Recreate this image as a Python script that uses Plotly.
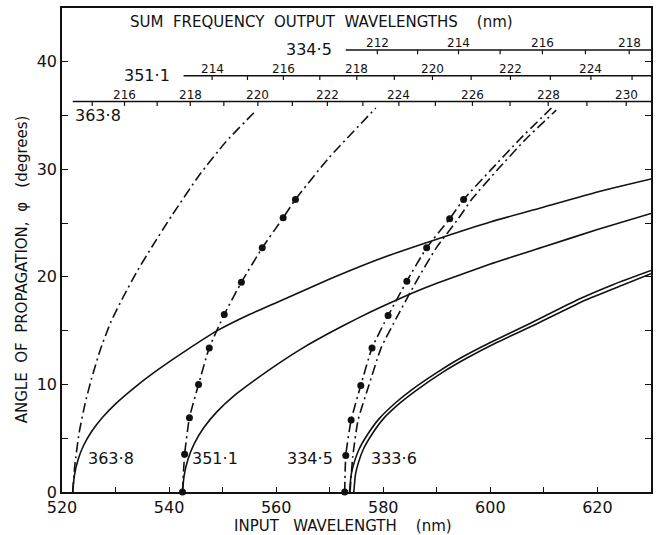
import plotly.graph_objects as go

# ---------------- data ----------------
# solid curves
solid_3638_x = [522.0, 522.3, 523.0, 524.0, 525.5, 527.5, 530.0, 534.0, 538.0, 543.0, 549.0, 555.0, 560.0, 570.0, 580.0, 590.0, 600.0, 610.0, 620.0, 630.0]
solid_3638_y = [0.0, 1.5, 3.0, 4.3, 5.6, 6.9, 8.2, 9.9, 11.4, 13.1, 15.0, 16.5, 17.6, 19.8, 21.8, 23.5, 25.1, 26.5, 27.9, 29.1]

solid_3511_x = [542.5, 542.8, 543.5, 544.7, 546.5, 549.0, 552.0, 556.0, 560.0, 565.0, 570.0, 575.0, 580.0, 585.0, 590.0, 600.0, 610.0, 620.0, 630.0]
solid_3511_y = [0.0, 1.5, 3.0, 4.5, 6.0, 7.5, 8.9, 10.4, 11.8, 13.4, 14.8, 16.1, 17.3, 18.4, 19.4, 21.2, 22.8, 24.4, 25.9]

solid_3345_x = [573.7, 574.0, 574.6, 575.5, 577.0, 579.2, 582.3, 585.3, 590.0, 594.6, 600.0, 607.1, 616.4, 623.0, 630.0]
solid_3345_y = [0.0, 1.6, 2.8, 4.0, 5.3, 6.8, 8.3, 9.5, 11.1, 12.5, 13.9, 15.6, 17.9, 19.3, 20.6]

solid_3336_x = [574.5, 574.8, 575.4, 576.3, 577.8, 580.0, 583.2, 586.3, 591.0, 595.8, 601.2, 608.5, 618.0, 624.5, 630.0]
solid_3336_y = [0.0, 1.6, 2.8, 4.0, 5.3, 6.8, 8.3, 9.5, 11.1, 12.5, 13.9, 15.6, 17.9, 19.2, 20.3]

# dash-dot curves
dd_3638_x = [522.0, 522.4, 523.2, 524.3, 525.5, 527.2, 529.2, 531.5, 534.0, 536.8, 540.5, 545.7, 550.5, 556.3]
dd_3638_y = [0.0, 2.5, 5.5, 8.2, 10.5, 13.3, 15.9, 18.2, 20.5, 22.8, 25.7, 29.5, 32.5, 35.5]

dd_3511_x = [542.5, 542.9, 543.8, 545.5, 547.5, 550.3, 553.5, 557.4, 561.3, 563.6, 569.9, 578.6]
dd_3511_y = [0.0, 3.5, 6.9, 10.0, 13.4, 16.5, 19.5, 22.7, 25.5, 27.2, 31.1, 35.7]

dd_3345_x = [572.8, 573.0, 574.0, 575.8, 577.9, 580.9, 584.4, 588.1, 592.4, 595.0, 600.0, 605.5, 611.4]
dd_3345_y = [0.0, 3.4, 6.7, 9.9, 13.4, 16.4, 19.6, 22.7, 25.4, 27.2, 29.9, 32.8, 35.7]

dd_3336_x = [573.8, 574.3, 575.3, 577.3, 579.6, 582.7, 586.2, 589.9, 594.0, 596.5, 601.4, 606.6, 612.3]
dd_3336_y = [0.0, 3.3, 6.7, 9.9, 13.4, 16.4, 19.6, 22.7, 25.4, 27.2, 30.0, 32.8, 35.5]

# measured points (dots)
pts_3511_x = [542.5, 542.9, 543.8, 545.5, 547.5, 550.3, 553.5, 557.4, 561.3, 563.6]
pts_3511_y = [0.0, 3.5, 6.9, 10.0, 13.4, 16.5, 19.5, 22.7, 25.5, 27.2]
pts_3345_x = [572.8, 573.0, 574.0, 575.8, 577.9, 580.9, 584.4, 588.1, 592.4, 595.0]
pts_3345_y = [0.0, 3.4, 6.7, 9.9, 13.4, 16.4, 19.6, 22.7, 25.4, 27.2]

# sum-frequency scales
pump_lines = [334.5, 351.1, 363.8]
pump_labels = ["334·5", "351·1", "363·8"]
scale_start_nm = [573.0, 542.7, 522.0]
scale_ticks = [[212, 213, 214, 215, 216, 217, 218],
               [214, 215, 216, 217, 218, 219, 220, 221, 222, 223, 224, 225],
               [215, 216, 217, 218, 219, 220, 221, 222, 223, 224, 225, 226, 227, 228, 229, 230]]

curve_labels = ["363·8", "351·1", "334·5", "333·6"]
curve_label_x = [529.1, 548.5, 566.3, 582.0]

x_ticks = [520, 530, 540, 550, 560, 570, 580, 590, 600, 610, 620, 630]
y_ticks = [0, 5, 10, 15, 20, 25, 30, 35, 40, 45]

# ---------------- figure ----------------
FONT = "DejaVu Sans"
BLACK = "#111111"
DASHDOT = "10px,4px,2px,4px"
X0, X1 = 520, 630
Y0, Y1 = 0, 45

fig = go.Figure()

def line(x, y, dash="solid", width=1.6):
    fig.add_trace(go.Scatter(x=x, y=y, mode="lines",
                             line=dict(color=BLACK, width=width, dash=dash, shape="spline", smoothing=0.5),
                             hoverinfo="skip"))

line(solid_3638_x, solid_3638_y)
line(solid_3511_x, solid_3511_y)
line(solid_3345_x, solid_3345_y)
line(solid_3336_x, solid_3336_y)
line(dd_3638_x, dd_3638_y, DASHDOT)
line(dd_3511_x, dd_3511_y, DASHDOT)
line(dd_3345_x, dd_3345_y, DASHDOT)
line(dd_3336_x, dd_3336_y, DASHDOT)

for px, py in [(pts_3511_x, pts_3511_y), (pts_3345_x, pts_3345_y)]:
    fig.add_trace(go.Scatter(x=px, y=py, mode="markers", marker=dict(color=BLACK, size=7),
                             hoverinfo="skip", cliponaxis=False))

# sum frequency output wavelength scales
scale_levels = [41.1, 38.7, 36.3]   # degrees (vertical placement of each scale line)
tick_len = 0.4
annotations = []
for p, lab, start, ticks, lev in zip(pump_lines, pump_labels, scale_start_nm, scale_ticks, scale_levels):
    fig.add_trace(go.Scatter(x=[start, X1], y=[lev, lev], mode="lines",
                             line=dict(color=BLACK, width=1.4), hoverinfo="skip"))
    tx, ty = [], []
    for s in ticks:
        xin = 1.0 / (1.0 / s - 1.0 / p)
        tx += [xin, xin, None]
        ty += [lev, lev - tick_len, None]
        if s % 2 == 0:
            annotations.append(dict(x=xin, y=lev, xref="x", yref="y", text=str(s), showarrow=False,
                                    yanchor="bottom", xanchor="center", yshift=-2,
                                    font=dict(family=FONT, size=12, color=BLACK)))
    fig.add_trace(go.Scatter(x=tx, y=ty, mode="lines", line=dict(color=BLACK, width=1.2), hoverinfo="skip"))
    if lab == "363·8":
        annotations.append(dict(x=start, y=lev, xref="x", yref="y", text=lab, showarrow=False,
                                xanchor="left", yanchor="top", yshift=-2,
                                font=dict(family=FONT, size=16, color=BLACK)))
    else:
        annotations.append(dict(x=start, y=lev, xref="x", yref="y", text=lab, showarrow=False,
                                xanchor="right", yanchor="middle", xshift=-12,
                                font=dict(family=FONT, size=16, color=BLACK)))

for lab, lx in zip(curve_labels, curve_label_x):
    annotations.append(dict(x=lx, y=3.1, xref="x", yref="y", text=lab, showarrow=False,
                            xanchor="center", yanchor="middle",
                            font=dict(family=FONT, size=16, color=BLACK)))

annotations.append(dict(x=0.44, y=Y1 - 1.3, xref="paper", yref="y",
                        text="SUM  FREQUENCY  OUTPUT  WAVELENGTHS    (nm)", showarrow=False,
                        xanchor="center", yanchor="middle",
                        font=dict(family=FONT, size=15, color=BLACK)))
annotations.append(dict(x=0.477, y=-0.071, xref="paper", yref="paper",
                        text="INPUT   WAVELENGTH    (nm)", showarrow=False,
                        xanchor="center", yanchor="middle",
                        font=dict(family=FONT, size=15, color=BLACK)))
annotations.append(dict(x=-0.068, y=0.46, xref="paper", yref="paper",
                        text="ANGLE  OF  PROPAGATION,  φ   (degrees)", showarrow=False, textangle=-90,
                        xanchor="center", yanchor="middle",
                        font=dict(family=FONT, size=15, color=BLACK)))

fig.update_layout(
    width=659, height=535,
    margin=dict(l=62, r=6, t=7, b=43),
    plot_bgcolor="white", paper_bgcolor="white",
    showlegend=False,
    annotations=annotations,
    xaxis=dict(range=[X0, X1], tickmode="array", tickvals=x_ticks,
               ticktext=[str(v) if v % 20 == 0 and v < 630 else "" for v in x_ticks],
               ticks="inside", ticklen=5, tickwidth=1.3, tickcolor=BLACK,
               showline=True, linecolor=BLACK, linewidth=1.6, mirror=True,
               showgrid=False, zeroline=False,
               tickfont=dict(family=FONT, size=16, color=BLACK)),
    yaxis=dict(range=[Y0, Y1], tickmode="array", tickvals=y_ticks,
               ticktext=[str(v) if v % 10 == 0 else "" for v in y_ticks],
               ticks="inside", ticklen=6, tickwidth=1.3, tickcolor=BLACK,
               showline=True, linecolor=BLACK, linewidth=1.6, mirror="ticks",
               showgrid=False, zeroline=False,
               tickfont=dict(family=FONT, size=16, color=BLACK)),
)

fig.write_html("out.html", config={"displayModeBar": False},
               post_script="document.body.style.margin='0px';")
